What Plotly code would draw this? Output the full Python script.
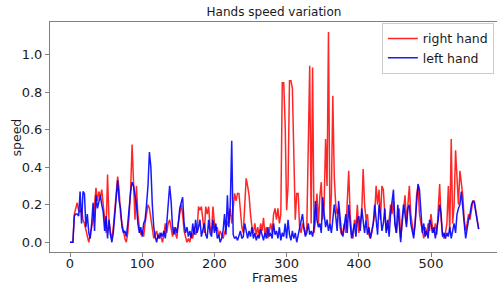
import plotly.graph_objects as go

frames = list(range(0, 567, 2))

right_hand = [
    0.0, 0.0, 0.0, 0.15, 0.18, 0.21, 0.17, 0.16, 0.18, 0.12,
    0.1, 0.06, 0.02, 0.0, 0.04, 0.08, 0.12, 0.2, 0.29, 0.22,
    0.27, 0.24, 0.28, 0.2, 0.12, 0.05, 0.36, 0.12, 0.05, 0.02,
    0.08, 0.18, 0.25, 0.35, 0.28, 0.15, 0.1, 0.05, 0.02, 0.0,
    0.05, 0.15, 0.28, 0.52, 0.35, 0.12, 0.3, 0.15, 0.08, 0.04,
    0.06, 0.03, 0.1, 0.15, 0.2, 0.18, 0.12, 0.05, 0.02, 0.04,
    0.06, 0.02, 0.05, 0.03, 0.0, 0.04, 0.1, 0.05, 0.1, 0.12,
    0.08, 0.03, 0.08, 0.04, 0.02, 0.1, 0.15, 0.2, 0.15, 0.06,
    0.03, 0.0, 0.02, 0.0, 0.05, 0.02, 0.08, 0.04, 0.06, 0.19,
    0.17, 0.19, 0.12, 0.05, 0.19, 0.15, 0.19, 0.08, 0.05, 0.19,
    0.1, 0.06, 0.08, 0.03, 0.06, 0.04, 0.02, 0.05, 0.08, 0.1,
    0.12, 0.18, 0.1, 0.2, 0.26, 0.22, 0.26, 0.26, 0.15, 0.08,
    0.05, 0.2, 0.34, 0.3, 0.25, 0.15, 0.08, 0.05, 0.1, 0.04,
    0.08, 0.03, 0.1, 0.06, 0.13, 0.04, 0.08, 0.02, 0.06, 0.1,
    0.05, 0.15, 0.18, 0.12, 0.18, 0.1, 0.15, 0.85, 0.85, 0.63,
    0.17, 0.3, 0.86, 0.86, 0.82, 0.38, 0.12, 0.26, 0.26, 0.08,
    0.05, 0.1, 0.06, 0.04, 0.08, 0.6, 0.94, 0.1, 0.93, 0.05,
    0.12, 0.26, 0.1, 0.24, 0.32, 0.12, 0.2, 0.55, 0.3, 1.12,
    0.1, 0.25, 0.78, 0.35, 0.2, 0.15, 0.18, 0.08, 0.04, 0.06,
    0.1, 0.05, 0.2, 0.38, 0.15, 0.05, 0.02, 0.12, 0.08, 0.2,
    0.05, 0.1, 0.15, 0.39, 0.2, 0.12, 0.15, 0.04, 0.02, 0.05,
    0.1, 0.15, 0.3, 0.2, 0.28, 0.12, 0.3, 0.28, 0.15, 0.06,
    0.08, 0.12, 0.2, 0.15, 0.22, 0.1, 0.05, 0.12, 0.18, 0.02,
    0.1, 0.18, 0.25, 0.1, 0.2, 0.3, 0.15, 0.08, 0.04, 0.1,
    0.25, 0.3, 0.15, 0.1, 0.05, 0.02, 0.08, 0.04, 0.1, 0.06,
    0.15, 0.08, 0.05, 0.1, 0.04, 0.15, 0.31, 0.12, 0.04, 0.02,
    0.05, 0.1, 0.3, 0.05, 0.55, 0.1, 0.2, 0.49, 0.3, 0.2,
    0.38, 0.32, 0.25, 0.12, 0.06, 0.1, 0.15, 0.12, 0.18, 0.22,
    0.22, 0.17, 0.12, 0.07,
]

left_hand = [
    0.0, 0.0, 0.0, 0.14, 0.15, 0.15, 0.14, 0.27, 0.1, 0.27,
    0.26, 0.08, 0.15, 0.05, 0.02, 0.1, 0.21, 0.06, 0.25, 0.18,
    0.22, 0.25, 0.2, 0.16, 0.06, 0.14, 0.02, 0.12, 0.04, 0.0,
    0.05, 0.15, 0.22, 0.33, 0.22, 0.18, 0.08, 0.05, 0.06, 0.03,
    0.1, 0.2, 0.27, 0.32, 0.3, 0.25, 0.2, 0.1, 0.05, 0.08,
    0.03, 0.1, 0.12, 0.2, 0.3, 0.48, 0.4, 0.2, 0.08, 0.03,
    0.0, 0.04, 0.02, 0.05, 0.03, 0.06, 0.02, 0.1, 0.18, 0.3,
    0.22, 0.08, 0.04, 0.08, 0.05, 0.1, 0.18, 0.22, 0.24, 0.1,
    0.05, 0.08, 0.03, 0.06, 0.02, 0.1, 0.04, 0.12, 0.05, 0.08,
    0.12, 0.03, 0.06, 0.1, 0.04, 0.02, 0.12, 0.05, 0.03, 0.12,
    0.05, 0.1, 0.02, 0.04, 0.0, 0.02, 0.06, 0.15, 0.04, 0.25,
    0.08, 0.2, 0.54, 0.04, 0.02, 0.03, 0.01, 0.03, 0.06, 0.02,
    0.03, 0.1, 0.05, 0.02, 0.06, 0.03, 0.08, 0.02, 0.05, 0.01,
    0.04, 0.02, 0.07, 0.03, 0.01, 0.05, 0.02, 0.08, 0.03, 0.05,
    0.02, 0.1, 0.04, 0.06, 0.02, 0.08, 0.01, 0.05, 0.03, 0.1,
    0.02, 0.12, 0.04, 0.01, 0.06, 0.02, 0.05, 0.0, 0.04, 0.08,
    0.12, 0.15, 0.08, 0.03, 0.05, 0.1, 0.04, 0.06, 0.03, 0.08,
    0.22, 0.12, 0.08, 0.1, 0.05, 0.24, 0.15, 0.08, 0.12, 0.06,
    0.1, 0.05, 0.12, 0.2, 0.14, 0.06, 0.22, 0.15, 0.05, 0.03,
    0.08, 0.15, 0.05, 0.2, 0.1, 0.02, 0.06, 0.1, 0.03, 0.12,
    0.14, 0.06, 0.18, 0.1, 0.05, 0.12, 0.04, 0.08, 0.02, 0.06,
    0.1, 0.2, 0.12, 0.04, 0.2, 0.15, 0.06, 0.1, 0.18, 0.05,
    0.12, 0.03, 0.15, 0.22, 0.28, 0.1, 0.05, 0.2, 0.1, 0.0,
    0.12, 0.2, 0.15, 0.08, 0.18, 0.2, 0.1, 0.05, 0.02, 0.1,
    0.2, 0.31, 0.28, 0.15, 0.05, 0.1, 0.03, 0.06, 0.02, 0.12,
    0.1, 0.05, 0.08, 0.02, 0.06, 0.12, 0.2, 0.15, 0.03, 0.05,
    0.02, 0.05, 0.03, 0.08, 0.02, 0.06, 0.1, 0.05, 0.15, 0.18,
    0.2, 0.27, 0.2, 0.1, 0.02, 0.08, 0.12, 0.15, 0.2, 0.22,
    0.21, 0.16, 0.1, 0.07,
]

x_ticks = [0, 100, 200, 300, 400, 500]
y_ticks = [0.0, 0.2, 0.4, 0.6, 0.8, 1.0]

FONT = "DejaVu Sans"
TXT = "#1a1a1a"

fig = go.Figure()
fig.add_trace(go.Scatter(x=frames, y=right_hand, mode="lines", name="right hand",
                         line=dict(color="rgba(255,0,0,0.85)", width=1.5)))
fig.add_trace(go.Scatter(x=frames, y=left_hand, mode="lines", name="left hand",
                         line=dict(color="rgba(0,0,255,0.9)", width=1.5)))

axis_common = dict(showline=True, linecolor="#808080", linewidth=1, mirror=True,
                   showgrid=False, zeroline=False, ticks="outside", ticklen=4,
                   tickcolor="#808080", tickfont=dict(family=FONT, size=13, color=TXT))

fig.update_layout(
    width=497, height=287,
    margin=dict(l=50, r=0, t=22, b=35),
    paper_bgcolor="white", plot_bgcolor="white",
    title=dict(text="Hands speed variation", x=(274 / 497), xanchor="center",
               y=1 - 12 / 287, yanchor="middle",
               font=dict(family=FONT, size=12, color=TXT)),
    xaxis=dict(range=[-27.7, 591.4], tickvals=x_ticks, ticklabelstandoff=-5,
               **axis_common),
    yaxis=dict(range=[-0.052, 1.173], tickvals=y_ticks, tickformat=".1f",
               **axis_common),
    legend=dict(x=0.993, xanchor="right", y=0.996, yanchor="top",
                bgcolor="rgba(255,255,255,0.8)", bordercolor="#cccccc", borderwidth=1,
                font=dict(family=FONT, size=12.5, color=TXT)),
    showlegend=True,
    annotations=[
        dict(text="Frames", xref="paper", yref="paper", x=0.502, y=-0.109,
             xanchor="center", yanchor="middle", showarrow=False,
             font=dict(family=FONT, size=12.5, color=TXT)),
        dict(text="speed", xref="paper", yref="paper", x=-0.075, y=0.5,
             xanchor="center", yanchor="middle", textangle=-90, showarrow=False,
             font=dict(family=FONT, size=12.5, color=TXT)),
    ],
)

fig.write_html("out.html", config={"displayModeBar": False},
               post_script="document.body.style.margin='0px';document.body.style.overflow='hidden';")
